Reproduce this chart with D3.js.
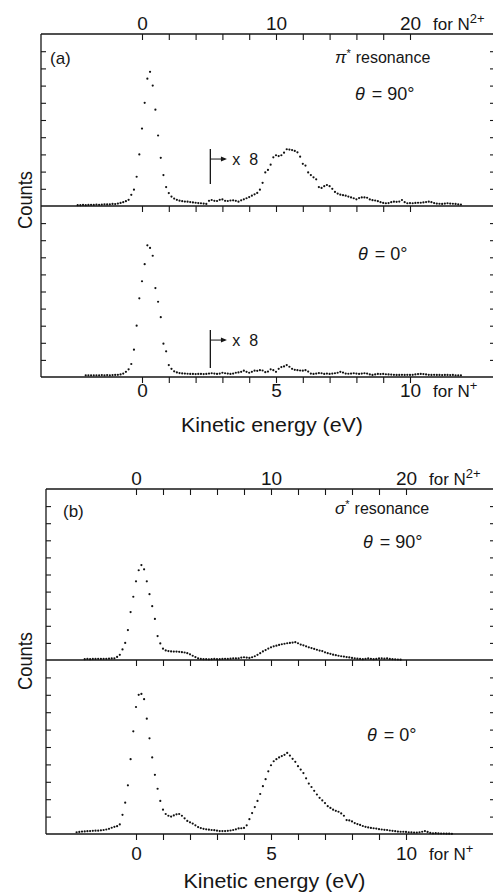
<!DOCTYPE html>
<html lang="en">
<head>
    <meta charset="utf-8">
    <title>N2 fragment kinetic energy spectra</title>
    <script src="https://d3js.org/d3.v7.min.js"></script>
    <style>
        body { margin: 0; background: #fff; }
        svg text { font-family: "Liberation Sans", Arial, sans-serif; fill: #161616; }
        .axis line { stroke: #161616; stroke-width: 1.1; }
        .frame { stroke: #161616; stroke-width: 1.3; }
    </style>
</head>
<body>
<div id="chart"></div>

<script>
    // kinetic energy of N+ (eV); the N2+ axis on top is twice this
    const energy = [
        -2.4, -2.3, -2.2, -2.1, -2.0, -1.9, -1.8, -1.7, -1.6, -1.5,
        -1.4, -1.3, -1.2, -1.1, -1.0, -0.9, -0.8, -0.7, -0.6, -0.5,
        -0.4, -0.3, -0.2, -0.1, 0.0, 0.1, 0.2, 0.3, 0.4, 0.5,
        0.6, 0.7, 0.8, 0.9, 1.0, 1.1, 1.2, 1.3, 1.4, 1.5,
        1.6, 1.7, 1.8, 1.9, 2.0, 2.1, 2.2, 2.3, 2.4, 2.5,
        2.6, 2.7, 2.8, 2.9, 3.0, 3.1, 3.2, 3.3, 3.4, 3.5,
        3.6, 3.7, 3.8, 3.9, 4.0, 4.1, 4.2, 4.3, 4.4, 4.5,
        4.6, 4.7, 4.8, 4.9, 5.0, 5.1, 5.2, 5.3, 5.4, 5.5,
        5.6, 5.7, 5.8, 5.9, 6.0, 6.1, 6.2, 6.3, 6.4, 6.5,
        6.6, 6.7, 6.8, 6.9, 7.0, 7.1, 7.2, 7.3, 7.4, 7.5,
        7.6, 7.7, 7.8, 7.9, 8.0, 8.1, 8.2, 8.3, 8.4, 8.5,
        8.6, 8.7, 8.8, 8.9, 9.0, 9.1, 9.2, 9.3, 9.4, 9.5,
        9.6, 9.7, 9.8, 9.9, 10.0, 10.1, 10.2, 10.3, 10.4, 10.5,
        10.6, 10.7, 10.8, 10.9, 11.0, 11.1, 11.2, 11.3, 11.4, 11.5,
        11.6, 11.7, 11.8, 11.9
    ];

    // counts in tick units, (a) pi* resonance, theta = 90  (x8 above 2.5 eV)
    const piPerp = [
        0.05, 0.05, 0.06, 0.05, 0.06, 0.07, 0.06, 0.08, 0.07, 0.08,
        0.10, 0.09, 0.10, 0.12, 0.11, 0.14, 0.18, 0.22, 0.28, 0.36,
        0.65, 0.95, 1.7, 3.0, 4.5, 6.0, 7.4, 7.8, 7.0, 5.6,
        4.1, 2.8, 1.8, 1.1, 0.75, 0.55, 0.43, 0.36, 0.31, 0.28,
        0.26, 0.25, 0.23, 0.21, 0.19, 0.17, 0.16, 0.14, 0.12, 0.30,
        0.35, 0.30, 0.29, 0.36, 0.38, 0.30, 0.29, 0.32, 0.33, 0.30,
        0.25, 0.33, 0.39, 0.45, 0.52, 0.60, 0.68, 0.76, 0.95, 1.35,
        1.95, 2.1, 2.4, 2.83, 2.95, 2.9, 2.95, 3.1, 3.3, 3.28,
        3.25, 3.2, 3.12, 2.87, 2.45, 2.35, 1.95, 1.8, 1.67, 1.55,
        1.1, 1.05, 1.15, 1.22, 1.15, 1.0, 0.82, 0.72, 0.66, 0.63,
        0.6, 0.55, 0.5, 0.45, 0.39, 0.46, 0.5, 0.5, 0.48, 0.38,
        0.34, 0.32, 0.28, 0.22, 0.18, 0.16, 0.17, 0.22, 0.25, 0.24,
        0.26, 0.35, 0.22, 0.16, 0.17, 0.16, 0.18, 0.19, 0.19, 0.21,
        0.23, 0.25, 0.22, 0.17, 0.14, 0.13, 0.12, 0.14, 0.16, 0.14,
        0.13, 0.12, 0.10, 0.08
    ];

    // (a) pi* resonance, theta = 0  (x8 above 2.5 eV)
    const piPara = [
        null, null, null, 0.10, 0.10, 0.10, 0.10, 0.10, 0.10, 0.11,
        0.10, 0.11, 0.10, 0.11, 0.12, 0.13, 0.15, 0.20, 0.30, 0.45,
        0.76, 1.6, 3.0, 4.6, 5.6, 6.6, 7.7, 7.55, 7.09, 5.2,
        4.4, 3.5, 1.95, 1.5, 0.7, 0.48, 0.33, 0.27, 0.23, 0.21,
        0.20, 0.19, 0.18, 0.18, 0.17, 0.18, 0.18, 0.17, 0.18, 0.20,
        0.22, 0.20, 0.18, 0.20, 0.25, 0.22, 0.20, 0.18, 0.20, 0.25,
        0.27, 0.30, 0.37, 0.30, 0.25, 0.30, 0.37, 0.36, 0.40, 0.38,
        0.28, 0.32, 0.45, 0.40, 0.30, 0.48, 0.58, 0.62, 0.70, 0.60,
        0.48, 0.42, 0.40, 0.38, 0.37, 0.40, 0.32, 0.20, 0.18, 0.20,
        0.23, 0.22, 0.18, 0.20, 0.18, 0.20, 0.22, 0.25, 0.30, 0.26,
        0.20, 0.19, 0.20, 0.22, 0.20, 0.18, 0.20, 0.22, 0.20, 0.15,
        0.12, 0.15, 0.18, 0.17, 0.18, 0.16, 0.15, 0.14, 0.13, 0.12,
        0.12, 0.13, 0.12, 0.13, 0.12, 0.13, 0.15, 0.17, 0.18, 0.17,
        0.15, 0.13, 0.12, 0.13, 0.12, 0.12, 0.11, 0.12, 0.12, 0.11,
        0.12, 0.10, 0.10, 0.10
    ];

    // (b) sigma* resonance, theta = 90
    const sigmaPerp = [
        null, null, null, null, null, 0.05, 0.06, 0.05, 0.06, 0.06,
        0.07, 0.06, 0.07, 0.07, 0.08, 0.09, 0.10, 0.18, 0.30, 0.62,
        1.0, 1.75, 2.8, 3.7, 4.6, 5.25, 5.55, 5.3, 4.6, 3.85,
        3.15, 2.4, 1.4, 0.97, 0.66, 0.56, 0.52, 0.50, 0.49, 0.49,
        0.48, 0.46, 0.44, 0.40, 0.33, 0.25, 0.17, 0.10, 0.06, 0.05,
        0.05, 0.04, 0.05, 0.06, 0.05, 0.05, 0.06, 0.07, 0.06, 0.08,
        0.10, 0.09, 0.10, 0.14, 0.16, 0.14, 0.12, 0.16, 0.22, 0.30,
        0.40, 0.50, 0.58, 0.67, 0.74, 0.80, 0.84, 0.88, 0.92, 0.95,
        0.98, 1.0, 1.02, 1.04, 0.98, 0.90, 0.86, 0.80, 0.74, 0.70,
        0.65, 0.60, 0.55, 0.52, 0.45, 0.40, 0.36, 0.31, 0.28, 0.25,
        0.22, 0.20, 0.17, 0.15, 0.12, 0.10, 0.08, 0.06, 0.05, 0.07,
        0.09, 0.07, 0.05, 0.06, 0.09, 0.10, 0.08, 0.10, 0.06, 0.05,
        0.04, 0.03, 0.02, null, null, null, null, null, null, null,
        null, null, null, null, null, null, null, null, null, null,
        null, null, null, null
    ];

    // (b) sigma* resonance, theta = 0
    const sigmaPara = [
        null, null, 0.10, 0.12, 0.14, 0.15, 0.16, 0.17, 0.18, 0.19,
        0.19, 0.21, 0.23, 0.26, 0.30, 0.36, 0.41, 0.45, 0.55, 1.1,
        1.8, 2.8, 4.3, 5.9, 7.3, 8.0, 8.05, 7.75, 6.63, 5.5,
        4.4, 3.4, 2.6, 1.9, 1.4, 1.15, 1.05, 1.0, 1.07, 1.13,
        1.15, 1.05, 0.9, 0.75, 0.67, 0.6, 0.5, 0.4, 0.34, 0.30,
        0.27, 0.25, 0.23, 0.22, 0.19, 0.17, 0.17, 0.17, 0.18, 0.20,
        0.23, 0.27, 0.32, 0.33, 0.35, 0.50, 0.85, 1.2, 1.55, 1.9,
        2.3, 2.75, 3.15, 3.6, 3.95, 4.18, 4.3, 4.4, 4.48, 4.55,
        4.66, 4.51, 4.32, 4.15, 3.9, 3.7, 3.5, 3.2, 2.9, 2.7,
        2.48, 2.27, 2.08, 1.93, 1.78, 1.6, 1.5, 1.4, 1.33, 1.28,
        1.18, 1.05, 0.8, 0.78, 0.72, 0.63, 0.57, 0.52, 0.46, 0.41,
        0.38, 0.35, 0.33, 0.31, 0.28, 0.26, 0.24, 0.23, 0.20, 0.18,
        0.16, 0.14, 0.13, 0.13, 0.12, 0.10, 0.09, 0.08, 0.08, 0.10,
        0.13, 0.17, 0.12, 0.06, 0.04, 0.05, 0.04, 0.03, 0.03, 0.02,
        0.02, 0.01, null, null
    ];

    const ionTicks = [0, 1, 2, 3, 4, 5, 6, 7, 8, 9, 10];
    const ionLabels = [0, 5, 10];
    const dicationLabels = [0, 10, 20];
    const countTicks = [1, 2, 3, 4, 5, 6, 7, 8, 9];

    const width = 493, height = 894, right = 497;
    const svg = d3.select("#chart").append("svg")
        .attr("width", width).attr("height", height);

    // theta label positions are in count units of each half
    const panels = [
        {left: 41, zero: 142, ten: 410, top: 34, mid: 206, bottom: 377,
            upper: piPerp, lower: piPara, tag: "(a)", tagX: 9, tagY: 30, greek: "π", resY: 29,
            xlabel: 432, numBase: 397, countsY: 200, theta90: [355, 6.15], theta0: [358, 6.85],
            times8: true},
        {left: 46, zero: 136, ten: 406, top: 489, mid: 660, bottom: 834,
            upper: sigmaPerp, lower: sigmaPara, tag: "(b)", tagX: 17, tagY: 28, greek: "σ", resY: 25,
            xlabel: 888, numBase: 860, countsY: 661, theta90: [363, 6.55], theta0: [367, 5.32],
            times8: false}
    ];

    panels.forEach(p => drawPanel(p));

    function drawPanel(p) {
        const x = d3.scaleLinear().domain([0, 10]).range([p.zero, p.ten]);
        const x2 = d3.scaleLinear().domain([0, 20]).range([p.zero, p.ten]);
        const yUp = d3.scaleLinear().domain([0, 10]).range([p.mid, p.top]);
        const yLo = d3.scaleLinear().domain([0, 10]).range([p.bottom, p.mid]);

        const g = svg.append("g");

        // frame: left edge, right edge (off page) and three horizontal lines
        g.append("line").attr("class", "frame")
            .attr("x1", p.left).attr("x2", p.left).attr("y1", p.top).attr("y2", p.bottom);
        g.append("line").attr("class", "frame")
            .attr("x1", right).attr("x2", right).attr("y1", p.top).attr("y2", p.bottom);
        [p.top, p.mid, p.bottom].forEach(yy => {
            g.append("line").attr("class", "frame")
                .attr("x1", p.left).attr("x2", right).attr("y1", yy).attr("y2", yy);

            g.append("g").attr("class", "axis")
                .attr("transform", `translate(0,${yy})`)
                .call(d3.axisBottom(x).tickValues(ionTicks).tickSize(6).tickFormat(""))
                .call(a => a.select(".domain").remove());
        });

        // count ticks, both sides
        [yUp, yLo].forEach(y => {
            g.append("g").attr("class", "axis")
                .attr("transform", `translate(${p.left},0)`)
                .call(d3.axisRight(y).tickValues(countTicks).tickSize(5).tickFormat(""))
                .call(a => a.select(".domain").remove());
            g.append("g").attr("class", "axis")
                .attr("transform", `translate(${right},0)`)
                .call(d3.axisLeft(y).tickValues(countTicks).tickSize(7).tickFormat(""))
                .call(a => a.select(".domain").remove());
        });

        // top labels, N2+ energy
        g.append("g")
            .attr("transform", `translate(0,${p.top - 4})`)
            .call(d3.axisTop(x2).tickValues(dicationLabels).tickSize(0).tickPadding(0))
            .call(a => a.select(".domain").remove())
            .attr("font-size", 19).attr("font-family", null);
        g.append("text").attr("x", p.ten + 23).attr("y", p.top - 4)
            .attr("font-size", 17)
            .text("for N")
            .append("tspan").attr("dy", -7).attr("font-size", 13).text("2+");

        // bottom labels, N+ energy
        g.append("g")
            .attr("transform", `translate(0,${p.numBase})`)
            .call(d3.axisBottom(x).tickValues(ionLabels).tickSize(0).tickPadding(0))
            .call(a => a.select(".domain").remove())
            .call(a => a.selectAll("text").attr("dy", 0))
            .attr("font-size", 19).attr("font-family", null);
        g.append("text").attr("x", p.ten + 23).attr("y", p.numBase)
            .attr("font-size", 17)
            .text("for N")
            .append("tspan").attr("dy", -7).attr("font-size", 13).text("+");

        g.append("text")
            .attr("x", (p.left + width) / 2 + 5).attr("y", p.xlabel)
            .attr("text-anchor", "middle").attr("font-size", 21)
            .attr("textLength", 182).attr("lengthAdjust", "spacingAndGlyphs")
            .text("Kinetic energy (eV)");

        g.append("text")
            .attr("transform", `translate(32,${p.countsY}) rotate(-90)`)
            .attr("text-anchor", "middle").attr("font-size", 20)
            .attr("textLength", 58).attr("lengthAdjust", "spacingAndGlyphs")
            .text("Counts");

        // annotations
        g.append("text").attr("x", p.left + p.tagX).attr("y", p.top + p.tagY)
            .attr("font-size", 17).text(p.tag);
        const res = g.append("text").attr("x", 335).attr("y", p.top + p.resY).attr("font-size", 16);
        res.append("tspan").attr("font-style", "italic").attr("font-size", 17).text(p.greek);
        res.append("tspan").attr("dy", -6).attr("font-size", 11).text("*");
        res.append("tspan").attr("dy", 6).attr("dx", 5).text("resonance");

        thetaLabel(g, p.theta90[0], yUp(p.theta90[1]), "90");
        thetaLabel(g, p.theta0[0], yLo(p.theta0[1]), "0");

        if (p.times8) {
            times8(g, x, yUp, 2.55, 1.28, 3.31, 2.73);
            times8(g, x, yLo, 2.55, 0.53, 2.75, 2.16);
        }

        // data points
        [[p.upper, yUp], [p.lower, yLo]].forEach(([vals, y]) => {
            const pts = energy.map((e, i) => ({e: e, v: vals[i]})).filter(d => d.v !== null);
            g.append("g").attr("fill", "#111")
                .selectAll("circle")
                .data(pts)
                .join("circle")
                .attr("cx", d => x(d.e))
                .attr("cy", d => y(d.v))
                .attr("r", 1.1);
        });
    }

    function thetaLabel(g, x0, y0, deg) {
        const t = g.append("text").attr("x", x0).attr("y", y0).attr("font-size", 18);
        t.append("tspan").attr("font-style", "italic").text("θ");
        t.append("tspan").attr("dx", 2).text(" = " + deg + "°");
    }

    function times8(g, x, y, e, vLow, vHigh, vArrow) {
        g.append("line").attr("class", "frame").attr("stroke-width", 1)
            .attr("x1", x(e)).attr("x2", x(e)).attr("y1", y(vLow)).attr("y2", y(vHigh));
        g.append("line").attr("stroke", "#161616").attr("stroke-width", 1)
            .attr("x1", x(e)).attr("x2", x(e + 0.55)).attr("y1", y(vArrow)).attr("y2", y(vArrow));
        const ax = x(e + 0.62), ay = y(vArrow);
        g.append("path").attr("fill", "#161616")
            .attr("d", `M${ax},${ay} l-6,-2.5 l0,5 z`);
        g.append("text").attr("x", x(e + 0.82)).attr("y", ay + 5.5)
            .attr("font-size", 16).attr("xml:space", "preserve").text("x  8");
    }
</script>
</body>
</html>
